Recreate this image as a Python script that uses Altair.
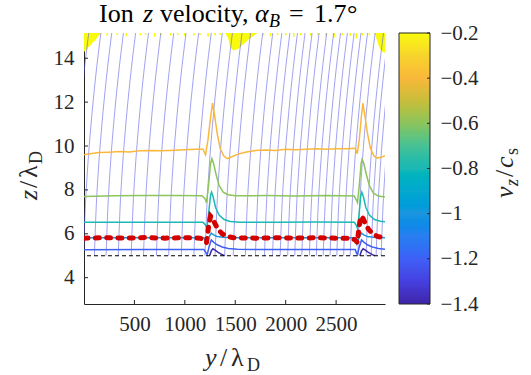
import altair as alt
import pandas as pd

# ---------------- data ----------------
y_domain = [0, 2985]
z_domain = [2.8, 15.15]
x_tick_values = [500, 1000, 1500, 2000, 2500]
z_tick_values = [4, 6, 8, 10, 12, 14]
cbar_domain = [-1.4, -0.2]
cbar_tick_values = [-1.4, -1.2, -1.0, -0.8, -0.6, -0.4, -0.2]

parula_levels = [-1.4, -1.3, -1.2, -1.1, -1.0, -0.9, -0.8, -0.7, -0.6, -0.5, -0.4, -0.3, -0.2]
parula_colors = ["#3e26a8", "#4640e0", "#4060f5", "#2b7ef0", "#1e95de", "#0ca8cf", "#1cb8b5",
                 "#48c194", "#8cc45e", "#c8bd3c", "#f9b83c", "#f6d42c", "#f9fb0e"]

# streamline seeds (y at z = 5) and the common bend of the lines
stream_seeds = [-125, -5, 103, 219, 340, 468, 590, 718, 840, 965, 1090, 1200, 1300, 1395, 1480,
                1600, 1700, 1790, 1870, 1945, 2020, 2090, 2160, 2235, 2304, 2372, 2440, 2507,
                2575, 2640, 2715, 2798, 2848, 2897, 2947]
stream_z = [5.0, 7.0, 9.0, 11.0, 13.0, 15.15]
stream_dy = [0, 16, 41, 75, 117, 172]

# contour of v_z = -0.4
orange_y = [0, 60, 150, 250, 350, 450, 550, 650, 750, 850, 950, 1050, 1120, 1180, 1205, 1230, 1255,
            1275, 1295, 1320, 1350, 1385, 1420, 1460, 1520, 1600, 1700, 1800, 1900, 2000, 2100, 2200,
            2300, 2400, 2500, 2600, 2690, 2710, 2730, 2750, 2765, 2785, 2810, 2840, 2875, 2910, 2950, 2985]
orange_z = [9.6, 9.65, 9.7, 9.72, 9.75, 9.73, 9.78, 9.8, 9.78, 9.8, 9.82, 9.84, 9.85, 9.85, 9.6, 10.3, 11.3,
            11.95, 11.4, 10.6, 9.9, 9.55, 9.42, 9.5, 9.62, 9.72, 9.8, 9.82, 9.8, 9.85, 9.83, 9.85,
            9.87, 9.85, 9.88, 9.87, 9.9, 9.65, 10.3, 11.3, 11.95, 11.4, 10.6, 9.9, 9.55, 9.45, 9.5, 9.55]
# contour of v_z = -0.6
green_y = [0, 300, 600, 900, 1170, 1200, 1215, 1235, 1255, 1268, 1285, 1310, 1340, 1380, 1430, 1500,
           1800, 2100, 2400, 2680, 2700, 2712, 2730, 2748, 2758, 2775, 2800, 2830, 2870, 2920, 2985]
green_z = [7.7, 7.73, 7.74, 7.75, 7.73, 7.6, 7.42, 8.2, 9.2, 9.42, 9.2, 8.7, 8.2, 7.9, 7.78, 7.73,
           7.74, 7.72, 7.74, 7.72, 7.55, 7.42, 8.2, 9.2, 9.4, 9.2, 8.7, 8.2, 7.85, 7.72, 7.68]
# contour of v_z = -0.8
teal_y = [0, 300, 600, 900, 1180, 1205, 1218, 1235, 1255, 1265, 1280, 1305, 1340, 1390, 1450, 1550,
          1900, 2300, 2680, 2700, 2712, 2728, 2745, 2755, 2770, 2795, 2830, 2880, 2940, 2985]
teal_z = [6.52, 6.53, 6.52, 6.53, 6.52, 6.4, 6.25, 6.9, 7.75, 7.9, 7.7, 7.2, 6.85, 6.65, 6.56, 6.53,
          6.53, 6.54, 6.53, 6.38, 6.25, 6.9, 7.75, 7.9, 7.7, 7.2, 6.85, 6.65, 6.57, 6.55]
# contour of v_z = -1.0
lblue_y = [0, 600, 1190, 1215, 1240, 1262, 1285, 1320, 1380, 1500, 2100, 2690, 2705, 2730, 2752,
           2775, 2810, 2870, 2985]
lblue_z = [5.82, 5.82, 5.82, 5.55, 5.85, 6.03, 5.95, 5.88, 5.84, 5.82, 5.82, 5.82, 5.55, 5.85, 6.03,
           5.95, 5.88, 5.84, 5.82]
# contour of v_z = -1.2
blue_y = [0, 600, 1190, 1212, 1222, 1240, 1262, 1285, 1320, 1370, 1430, 1520, 2100, 2690, 2702, 2712,
          2730, 2752, 2775, 2810, 2860, 2920, 2985]
blue_z = [5.27, 5.28, 5.28, 5.12, 5.05, 5.4, 5.72, 5.62, 5.5, 5.4, 5.33, 5.29, 5.28, 5.28, 5.12, 5.05,
          5.4, 5.72, 5.62, 5.5, 5.4, 5.33, 5.3]
# contour of v_z = -1.4 (two short arcs)
dark1_y = [1245, 1262, 1278, 1300, 1330, 1365, 1395]
dark1_z = [5.0, 5.22, 5.32, 5.25, 5.15, 5.06, 5.0]
dark2_y = [2735, 2752, 2768, 2790, 2820, 2855, 2885]
dark2_z = [5.0, 5.22, 5.32, 5.25, 5.15, 5.06, 5.0]

# red dashed curve
red_y = [0, 200, 400, 600, 800, 1000, 1150, 1195, 1215, 1235, 1255, 1275, 1300, 1330, 1370, 1420,
         1480, 1700, 1900, 2100, 2300, 2500, 2650, 2690, 2710, 2728, 2747, 2767, 2792, 2822, 2862,
         2910, 2950, 2985]
red_z = [5.8, 5.82, 5.8, 5.83, 5.8, 5.82, 5.8, 5.72, 5.6, 6.3, 6.8, 6.7, 6.45, 6.2, 6.0, 5.88,
         5.82, 5.8, 5.82, 5.8, 5.82, 5.8, 5.8, 5.72, 5.6, 6.3, 6.8, 6.7, 6.45, 6.2, 6.0,
         5.88, 5.84, 5.82]

# black dashed level
sheath_z = [5.0]

# yellow (v_z = -0.2) patches at the top
yellowA_y = [0, 15, 30, 50, 70, 90, 110, 130, 150, 170]
yellowA_z = [14.3, 14.35, 14.4, 14.55, 14.6, 14.75, 14.8, 14.95, 15.05, 15.15]
yellowB_y = [1400, 1430, 1450, 1480, 1510, 1540, 1570, 1600, 1630, 1660, 1690, 1720]
yellowB_z = [15.15, 14.9, 14.5, 14.35, 14.4, 14.45, 14.6, 14.7, 14.85, 14.95, 15.05, 15.15]
yellowC_y = [2880, 2900, 2920, 2940, 2960, 2985]
yellowC_z = [15.15, 14.9, 14.6, 14.4, 14.3, 14.25]
speck_y = [230, 330, 420, 560, 610, 700, 760, 860, 930, 1000, 1090, 1150, 1230, 1300, 1350, 1780,
           1850, 1920, 2000, 2080, 2150, 2250, 2320, 2400, 2480, 2560, 2640, 2700, 2760, 2830]
speck_z = [15.02, 15.05, 15.0, 15.04, 15.06, 14.98, 15.05, 15.03, 15.06, 15.0, 15.04, 15.05, 14.98,
           15.04, 15.06, 15.03, 15.0, 15.05, 15.04, 14.97, 15.05, 15.02, 15.06, 15.0, 14.95, 15.04,
           15.02, 14.9, 15.03, 15.05]

# ---------------- tables ----------------
rows = []
for i, s in enumerate(stream_seeds):
    for k, (zz, dy) in enumerate(zip(stream_z, stream_dy)):
        rows.append({"y": s + dy, "z": zz, "seed": i, "k": k})
stream_df = pd.DataFrame(rows)

rows = []
for name, lev, ys, zs in [("o", -0.4, orange_y, orange_z), ("g", -0.6, green_y, green_z),
                          ("t", -0.8, teal_y, teal_z), ("lb", -1.0, lblue_y, lblue_z),
                          ("b", -1.2, blue_y, blue_z), ("d1", -1.4, dark1_y, dark1_z),
                          ("d2", -1.4, dark2_y, dark2_z)]:
    for k, (a, b) in enumerate(zip(ys, zs)):
        rows.append({"y": a, "z": b, "level": lev, "series": name, "k": k})
contour_df = pd.DataFrame(rows)

red_df = pd.DataFrame({"y": red_y, "z": red_z, "k": range(len(red_y))})
sheath_df = pd.DataFrame({"z": sheath_z})

yellow_parts = []
for name, ys, zs in [("A", yellowA_y, yellowA_z), ("B", yellowB_y, yellowB_z), ("C", yellowC_y, yellowC_z)]:
    yellow_parts.append(pd.DataFrame({"y": ys, "z": zs, "ztop": [z_domain[1]] * len(ys)}))
speck_df = pd.DataFrame({"y": speck_y, "z": speck_z, "ztop": z_domain[1]})
xtick_df = pd.DataFrame({"y": x_tick_values})
ztick_df = pd.DataFrame({"z": z_tick_values})
ctick_df = pd.DataFrame({"v": cbar_tick_values})
cframe_df = pd.DataFrame({"v": [cbar_domain[0]], "v2": [cbar_domain[1]]})
# colour-bar gradient strips across the scale's domain
n_strips = 240
step = (cbar_domain[1] - cbar_domain[0]) / n_strips
cgrad_df = pd.DataFrame({
    "v": [cbar_domain[0] + i * step for i in range(n_strips)],
    "v2": [min(cbar_domain[0] + (i + 1.8) * step, cbar_domain[1]) for i in range(n_strips)],
    "vm": [cbar_domain[0] + (i + 0.5) * step for i in range(n_strips)],
})

# ---------------- chart ----------------
W, H = 301, 271
FONT = "Liberation Serif"
AX = "#262626"
CB_L, CB_R = 14, 45  # colour bar edges measured from the plot's right edge

xs = alt.Scale(domain=y_domain, nice=False, zero=False)
zs = alt.Scale(domain=z_domain, nice=False, zero=False)
color_scale = alt.Scale(domain=parula_levels, range=parula_colors)
xaxis = alt.Axis(values=x_tick_values, title=None, labelPadding=9, format="d", labelFlush=False)
zaxis = alt.Axis(values=z_tick_values, title=None, labelPadding=10, orient="left")

X = alt.X("y:Q", scale=xs, axis=xaxis)
Y = alt.Y("z:Q", scale=zs, axis=zaxis)
Yns = alt.Y("z:Q", scale=zs, axis=zaxis, stack=None)

yellows = [alt.Chart(d).mark_area(color="#f9fb0e", clip=True, opacity=1).encode(
    x=X, y=Yns, y2=alt.Y2("ztop:Q")) for d in yellow_parts]
specks = alt.Chart(speck_df).mark_rule(color="#f9fb0e", strokeWidth=1.6, clip=True).encode(
    x=X, y=Yns, y2="ztop:Q")
streams = alt.Chart(stream_df).mark_line(color="#5a5ae6", strokeWidth=0.8, opacity=0.72, clip=True,
                                         interpolate="monotone").encode(
    x=X, y=Y, detail="seed:N", order="k:Q")
contours = alt.Chart(contour_df).mark_line(strokeWidth=1.5, clip=True).encode(
    x=X, y=Y, detail="series:N", order="k:Q",
    color=alt.Color("level:Q", scale=color_scale, legend=None))
sheath = alt.Chart(sheath_df).mark_rule(color="black", strokeDash=[4, 3], strokeWidth=1.1).encode(y=Y)
red = alt.Chart(red_df).mark_line(color="#d40000", strokeWidth=5, strokeDash=[4, 7.3],
                                  strokeCap="round", clip=True).encode(x=X, y=Y, order="k:Q")
xticks = alt.Chart(xtick_df).mark_rule(color=AX, strokeWidth=1).encode(
    x=X, y=alt.value(H), y2=alt.value(H - 4))
zticks = alt.Chart(ztick_df).mark_rule(color=AX, strokeWidth=1).encode(
    y=Y, x=alt.value(0), x2=alt.value(4))

one = pd.DataFrame({"a": [0]})


def txt(s, px, py, size, italic=False, angle=0, color="black"):
    kw = dict(text=s, font=FONT, fontSize=size, align="left", baseline="alphabetic", color=color)
    if italic:
        kw["fontStyle"] = "italic"
    if angle:
        kw["angle"] = angle
    return alt.Chart(one).mark_text(**kw).encode(x=alt.value(px - 84), y=alt.value(py - 33))


title_texts = [
    txt("Ion", 99, 22, 26), txt("z", 143, 22, 26, True), txt("velocity,", 160, 22, 26),
    txt("α", 255, 22, 26, True), txt("B", 269, 27, 18, True), txt("=", 289, 22, 26),
    txt("1.7", 314, 22, 26), txt("°", 347, 22, 26),
    # x title
    txt("y", 205, 366, 26, True, color=AX), txt("/", 220, 366, 26, color=AX),
    txt("λ", 231, 366, 26, color=AX), txt("D", 247, 371, 18, color=AX),
    # y title (rotated)
    txt("z", 37, 200, 26, True, 270, AX), txt("/", 37, 188, 26, False, 270, AX),
    txt("λ", 37, 178, 26, False, 270, AX), txt("D", 42, 164, 18, False, 270, AX),
]
cbar_texts = [
    txt("v", 513, 198, 26, True, 270, AX), txt("z", 518, 186, 18, True, 270, AX),
    txt("/", 513, 177, 26, False, 270, AX), txt("c", 513, 168, 26, True, 270, AX),
    txt("s", 518, 155, 18, False, 270, AX),
]

main = alt.layer(*yellows, specks, streams, contours, sheath, red, xticks, zticks, *title_texts)

# colour bar on its own vertical scale
cscale = alt.Scale(domain=cbar_domain, nice=False, zero=False)
caxis = alt.Axis(orient="right", offset=CB_R, values=cbar_tick_values, format=".1~f", title=None,
                 domain=False, labelPadding=10, labelFlush=False)
CY = alt.Y("v:Q", scale=cscale, axis=caxis)
cgrad = alt.Chart(cgrad_df).mark_rect().encode(
    y=CY, y2="v2:Q",
    x=alt.value(W + CB_L), x2=alt.value(W + CB_R),
    color=alt.Color("vm:Q", scale=color_scale, legend=None))
cframe = alt.Chart(cframe_df).mark_rect(filled=False, stroke=AX, strokeWidth=1).encode(
    y=CY, y2="v2:Q",
    x=alt.value(W + CB_L), x2=alt.value(W + CB_R))
cticks = alt.Chart(ctick_df).mark_rule(color=AX, strokeWidth=1).encode(
    y=CY, x=alt.value(W + CB_R - 3), x2=alt.value(W + CB_R))
cbar = alt.layer(cgrad, cframe, cticks, *cbar_texts)

chart = alt.layer(main, cbar).resolve_scale(y="independent").properties(
    width=W, height=H,
    autosize=alt.AutoSizeParams(type="none"),
    padding={"left": 84, "top": 33, "right": 531 - 84 - W, "bottom": 375 - 33 - H},
).configure_view(stroke=None).configure_axis(
    labelFont=FONT, labelFontSize=21, labelColor=AX, domainColor=AX, domainWidth=1,
    ticks=False, grid=False,
)

chart.save("out.html", embed_options={"renderer": "svg", "actions": False})
